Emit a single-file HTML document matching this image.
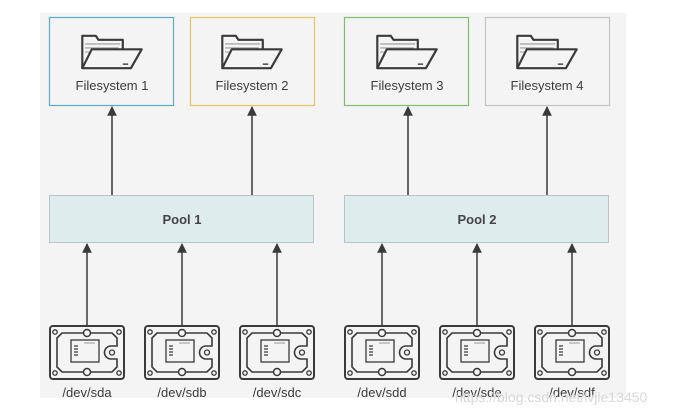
<!DOCTYPE html>
<html><head><meta charset="utf-8"><style>
html,body{margin:0;padding:0;background:#fff;width:682px;height:417px;overflow:hidden}
svg{display:block}
text{font-family:"Liberation Sans",sans-serif}
</style></head><body>
<svg width="682" height="417" viewBox="0 0 682 417" xmlns="http://www.w3.org/2000/svg">
<defs>
<g id="folder" fill="none" stroke="#3a3a3a" stroke-width="1.6" stroke-linejoin="round">
  <path d="M-22,12 L-22,-12 L-12,-12 L-10,-9 L8,-9 L8,-2"/>
  <path d="M-20,-6 L6,-6 M-20,-3 L5,-3 M-20,0 L4,0" stroke="#999" stroke-width="0.8"/>
  <path d="M-22,12 L-15,-2 L22,-2 L14,12 Z" fill="#f4f4f4"/>
  <path d="M8,9 L12,9" stroke-width="1"/>
</g>
<g id="disk" fill="none" stroke="#3a3a3a" stroke-width="2">
  <rect x="-37" y="0" width="74" height="53" rx="3"/>
  <path d="M-30,12 L-25,7 L25,7 L30,12 L30,20 L24,20 A6,6 0 0 0 24,33 L30,33 L30,41 L25,46 L-25,46 L-30,41 Z" stroke-width="1.6"/>
  <circle cx="-32" cy="6" r="2.2" stroke-width="1.3"/>
  <circle cx="32" cy="6" r="2.2" stroke-width="1.3"/>
  <circle cx="-32" cy="47" r="2.2" stroke-width="1.3"/>
  <circle cx="32" cy="47" r="2.2" stroke-width="1.3"/>
  <circle cx="0" cy="7" r="3.5" fill="#f4f4f4" stroke-width="1.5"/>
  <circle cx="0" cy="46" r="3.5" fill="#f4f4f4" stroke-width="1.5"/>
  <circle cx="25" cy="26.5" r="2.5" stroke-width="1.3"/>
  <rect x="-16" y="14" width="28" height="22" stroke-width="1.3"/>
  <path d="M-13,20 L-9,20 M-13,23 L-9,23 M-13,26 L-9,26 M-13,29 L-9,29" stroke-width="1.2"/>
  <path d="M-3,17 L8,17" stroke="#999" stroke-width="1"/>
</g>
<marker id="ah" viewBox="0 0 10 10" refX="9" refY="5" markerWidth="6.5" markerHeight="6.5" orient="auto">
  <path d="M0,0 L10,5 L0,10 Z" fill="#3a3a3a"/>
</marker>
</defs>
<rect x="40" y="13" width="586" height="385" fill="#f4f4f4"/>
<rect x="49.5" y="17.5" width="124" height="88" fill="#f4f4f4" stroke="#5aaccc" stroke-width="1.2"/>
<rect x="190.5" y="17.5" width="124" height="88" fill="#f4f4f4" stroke="#e6c262" stroke-width="1.2"/>
<rect x="344.5" y="17.5" width="124" height="88" fill="#f4f4f4" stroke="#7fbf6f" stroke-width="1.2"/>
<rect x="485.5" y="17.5" width="124" height="88" fill="#f4f4f4" stroke="#c4c4c4" stroke-width="1.2"/>
<use href="#folder" transform="translate(112,52) scale(1.35)"/>
<use href="#folder" transform="translate(252,52) scale(1.35)"/>
<use href="#folder" transform="translate(407,52) scale(1.35)"/>
<use href="#folder" transform="translate(547,52) scale(1.35)"/>
<g font-size="13" fill="#3c3c3c" text-anchor="middle">
<text x="112" y="90">Filesystem 1</text>
<text x="252" y="90">Filesystem 2</text>
<text x="407" y="90">Filesystem 3</text>
<text x="547" y="90">Filesystem 4</text>
</g>
<rect x="49.5" y="195.5" width="264" height="47" fill="#dfeced" stroke="#b8c4c6"/>
<rect x="344.5" y="195.5" width="264" height="47" fill="#dfeced" stroke="#b8c4c6"/>
<g font-size="13" font-weight="bold" fill="#444" text-anchor="middle">
<text x="182" y="224">Pool 1</text>
<text x="477" y="224">Pool 2</text>
</g>
<g stroke="#3a3a3a" stroke-width="1.5" marker-end="url(#ah)">
<line x1="112" y1="195" x2="112" y2="107"/>
<line x1="252" y1="195" x2="252" y2="107"/>
<line x1="408" y1="195" x2="408" y2="107"/>
<line x1="547" y1="195" x2="547" y2="107"/>
<line x1="87" y1="327" x2="87" y2="244"/>
<line x1="182" y1="327" x2="182" y2="244"/>
<line x1="277" y1="327" x2="277" y2="244"/>
<line x1="382" y1="327" x2="382" y2="244"/>
<line x1="477" y1="327" x2="477" y2="244"/>
<line x1="572" y1="327" x2="572" y2="244"/>
</g>
<use href="#disk" x="87" y="326"/>
<use href="#disk" x="182" y="326"/>
<use href="#disk" x="277" y="326"/>
<use href="#disk" x="382" y="326"/>
<use href="#disk" x="477" y="326"/>
<use href="#disk" x="572" y="326"/>
<g font-size="13" fill="#3c3c3c" text-anchor="middle">
<text x="87" y="397">/dev/sda</text>
<text x="182" y="397">/dev/sdb</text>
<text x="277" y="397">/dev/sdc</text>
<text x="382" y="397">/dev/sdd</text>
<text x="477" y="397">/dev/sde</text>
<text x="572" y="397">/dev/sdf</text>
</g>
<text x="455" y="402" font-size="14" fill="#d8d8d8">https://blog.csdn.net/lvjie13450</text>
</svg>
</body></html>
